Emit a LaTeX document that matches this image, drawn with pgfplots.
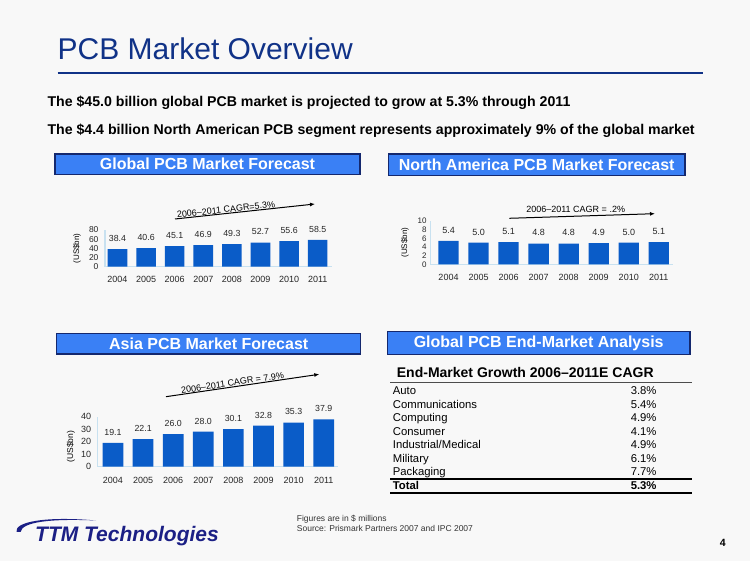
\documentclass[border=0pt]{standalone}
\usepackage{pgfplots}
\pgfplotsset{compat=1.18}
\usepackage{fontspec}
\setmainfont{Liberation Sans}
\usetikzlibrary{arrows.meta}
\definecolor{bg}{RGB}{248,248,248}
\definecolor{navy}{RGB}{16,50,135}
\definecolor{barblue}{RGB}{10,92,200}
\definecolor{boxblue}{RGB}{58,128,245}
\definecolor{boxedge}{RGB}{20,40,110}
\definecolor{axcol}{RGB}{200,225,240}
\definecolor{logoblue}{RGB}{27,31,133}
\newcommand{\fs}[1]{\fontsize{#1}{#1}\selectfont}
\pgfplotsset{
  pcbbar/.style={
    scale only axis, anchor=south west,
    ybar, bar width=#1,
    axis x line*=bottom, axis y line*=left,
    axis line style={draw=axcol, line width=1pt},
    major tick length=0pt,
    xtick={0,...,7}, xticklabels={2004,2005,2006,2007,2008,2009,2010,2011},
    xticklabel style={font=\fs{9}, text=black!85, yshift=-6pt},
    yticklabel style={font=\fs{8.5}, text=black!85},
    /pgf/number format/assume math mode=true,
    ymin=0,
    nodes near coords={\pgfmathprintnumber[fixed,fixed zerofill,precision=1]{\pgfplotspointmeta}},
    every node near coord/.append style={font=\fs{8.8}, text=black!85, yshift=4pt},
    ylabel={(US\$bn)},
    ylabel style={font=\fs{8}, anchor=center},
    clip=false,
  }
}
\begin{document}
\begin{tikzpicture}[x=1pt,y=1pt]
\path[use as bounding box] (0pt,0pt) rectangle (750pt,561pt);
\fill[bg] (0pt,0pt) rectangle (750pt,561pt);
% chart 1 global
\begin{axis}[pcbbar=19.6pt, at={(105pt,294.3pt)}, width=226.7pt, height=36.7pt,
  xmin=-0.437, xmax=7.49, ymax=80, ytick={0,20,40,60,80},
  yticklabel style={xshift=-3pt},
  ylabel style={at={(axis description cs:-0.123,0.5)}}]
\addplot[fill=barblue, draw=none] coordinates {(0,38.4) (1,40.6) (2,45.1) (3,46.9) (4,49.3) (5,52.7) (6,55.6) (7,58.5)};
\end{axis}
% chart 2 north america
\begin{axis}[pcbbar=20.3pt, at={(430pt,296.7pt)}, width=243pt, height=43.3pt,
  xmin=-0.616, xmax=7.473, ymax=10, ytick={0,2,4,6,8,10},
  yticklabel style={font=\fs{8}},
  every node near coord/.append style={font=\fs{9}},
  ylabel style={at={(axis description cs:-0.103,0.5)}}]
\addplot[fill=barblue, draw=none] coordinates {(0,5.4) (1,5.0) (2,5.1) (3,4.8) (4,4.8) (5,4.9) (6,5.0) (7,5.1)};
\end{axis}
% chart 3 asia
\begin{axis}[pcbbar=20.7pt, at={(97.7pt,94.3pt)}, width=240.3pt, height=50pt,
  xmin=-0.508, xmax=7.475, ymax=40, ytick={0,10,20,30,40},
  yticklabel style={font=\fs{9}, xshift=-3pt},
  xticklabel style={yshift=-1pt},
  ylabel style={font=\fs{8.5}, at={(axis description cs:-0.112,0.4)}}]
\addplot[fill=barblue, draw=none] coordinates {(0,19.1) (1,22.1) (2,26.0) (3,28.0) (4,30.1) (5,32.8) (6,35.3) (7,37.9)};
\end{axis}
\begin{scope}[yshift=561pt, x=1pt, y=-1pt]
% title
\node[anchor=base west, font=\fs{30}, text=navy, inner sep=0] at (57.5,60) {PCB Market Overview};
\draw[navy, line width=2pt] (57.5,72.7) -- (702.7,72.7);
\node[anchor=base west, font=\bfseries\fs{14.15}, inner sep=0] at (47.3,106.7) {The \$45.0 billion global PCB market is projected to grow at 5.3\% through 2011};
\node[anchor=base west, font=\bfseries\fs{14.15}, inner sep=0] at (47.3,135) {The \$4.4 billion North American PCB segment represents approximately 9\% of the global market};
% header boxes
\node[draw=boxedge, line width=1.2pt, fill=boxblue, minimum width=305pt, minimum height=20.3pt, inner sep=0pt, text=white, font=\bfseries\fs{16}] at (207.5,164.2) {Global PCB Market Forecast};
\node[draw=boxedge, line width=1.2pt, fill=boxblue, minimum width=296.7pt, minimum height=21.3pt, inner sep=0pt, text=white, font=\bfseries\fs{16}] at (536.7,164.7) {North America PCB Market Forecast};
\node[draw=boxedge, line width=1.2pt, fill=boxblue, minimum width=304pt, minimum height=20.7pt, inner sep=0pt, text=white, font=\bfseries\fs{16}] at (208.7,343.7) {Asia PCB Market Forecast};
\node[draw=boxedge, line width=1.2pt, fill=boxblue, minimum width=302.7pt, minimum height=22.6pt, inner sep=0pt, text=white, font=\bfseries\fs{16}] at (538.7,343) {Global PCB End-Market Analysis};
% CAGR arrows
\draw[-{Latex[length=5pt,width=4pt]}, line width=1pt] (175,219) -- (315,204);
\node[font=\fs{9}, rotate=6.1, inner sep=0] at (226,209.5) {2006--2011 CAGR=5.3\%};
\draw[-{Latex[length=5pt,width=4pt]}, line width=1pt] (509.3,218.3) -- (655,213.7);
\node[font=\fs{9}, inner sep=0] at (575.7,209.3) {2006--2011 CAGR = .2\%};
\draw[-{Latex[length=5pt,width=4pt]}, line width=1pt] (166,396.7) -- (319.3,374.3);
\node[font=\fs{9}, rotate=8.3, inner sep=0] at (232.5,383) {2006--2011 CAGR = 7.9\%};
% table
\node[anchor=base west, font=\bfseries\fs{14}, inner sep=0] at (396.7,377.7) {End-Market Growth 2006--2011E CAGR};
\draw[black!70, line width=0.8pt] (390,382.7) -- (692,382.7);
\foreach \name/\val [count=\i from 0] in {Auto/3.8, Communications/5.4, Computing/4.9, Consumer/4.1, Industrial\slash Medical/4.9, Military/6.1, Packaging/7.7} {
  \node[anchor=base west, font=\fs{11.3}, inner sep=0] at (392.7,{395+13.5*\i}) {\name};
  \node[anchor=base east, font=\fs{11.3}, inner sep=0] at (656.7,{395+13.5*\i}) {\val\%};
}
\draw[black, line width=1.6pt] (390,479) -- (692,479);
\node[anchor=base west, font=\bfseries\fs{11.3}, inner sep=0] at (392.7,489.5) {Total};
\node[anchor=base east, font=\bfseries\fs{11.3}, inner sep=0] at (656.7,489.5) {5.3\%};
\draw[black, line width=1.6pt] (390,493.3) -- (692,493.3);
% footer
\node[anchor=base west, font=\fs{8.5}, text=black!80, inner sep=0] at (296.7,521.3) {Figures are in \$ millions};
\node[anchor=base west, font=\fs{8.5}, text=black!80, inner sep=0] at (296.7,531.3) {Source: Prismark Partners 2007 and IPC 2007};
\node[font=\bfseries\fs{10.5}, inner sep=0] at (722.7,543.3) {4};
% logo
\fill[logoblue] (16.5,532) .. controls (14,522) and (45,516) .. (96,520.5) .. controls (50,518.5) and (22,522) .. (20.5,532) -- cycle;
\node[anchor=base west, font=\bfseries\itshape\fs{21}, text=logoblue, inner sep=0] at (35,541.7) {TTM Technologies};
\end{scope}
\end{tikzpicture}
\end{document}
